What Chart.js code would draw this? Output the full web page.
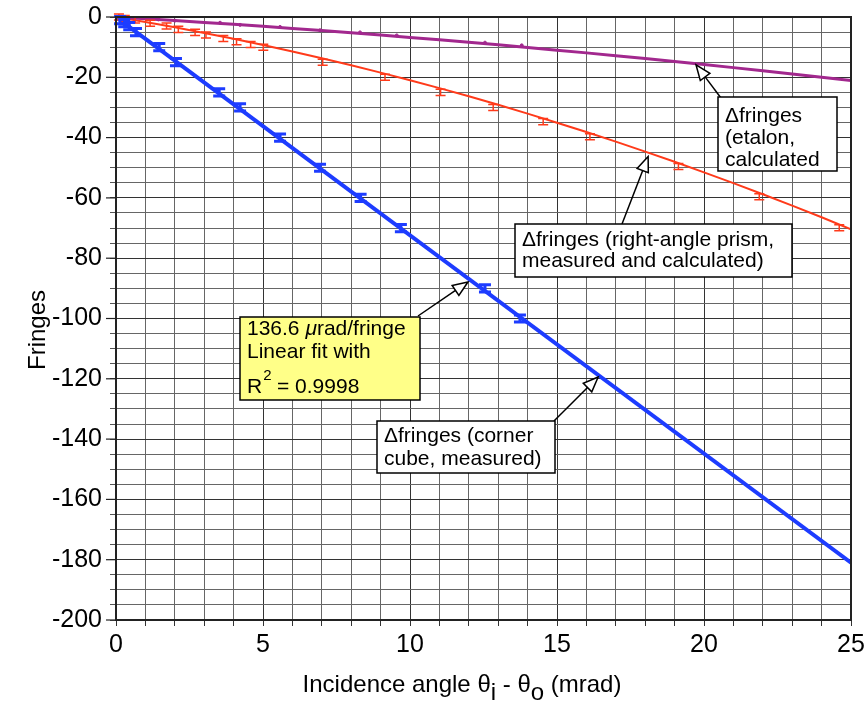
<!DOCTYPE html>
<html>
<head>
<meta charset="utf-8">
<script src="https://cdn.jsdelivr.net/npm/chart.js@4/dist/chart.umd.min.js"></script>
<style>
  html, body { margin: 0; padding: 0; background: #fff; }
  #wrap { width: 868px; height: 706px; }
</style>
</head>
<body>
<div id="wrap"><canvas id="c" width="868" height="706"></canvas></div>
<script>
// corner cube, measured (with error bars) + linear fit
const cubeX = [0.14, 0.28, 0.45, 0.68, 1.47, 2.04, 3.51, 4.22, 5.58, 6.94, 8.32, 9.69, 12.55, 13.74];
const cubeY = [-1, -2, -3, -5, -10, -15, -25, -30, -40, -50, -60, -70, -90, -100];
const cubeErr = 1.2;
const fitX = [0, 25];
const fitY = [0, -181];

// right-angle prism, measured + calculated
const prismX = [0.1, 0.3, 0.65, 1.16, 1.72, 2.12, 2.69, 3.06, 3.65, 4.1, 4.58, 5.01, 7.03, 9.15, 11.04, 12.83, 14.53, 16.12, 19.13, 21.88, 24.6];
const prismY = [0, -0.5, -1, -2.1, -3, -4.1, -5.1, -6, -7.1, -8.2, -9.1, -10, -15, -20, -25, -30, -34.7, -39.7, -49.6, -59.6, -69.9];
const prismErr = 1;
const calcX = [0, 1, 2, 3, 4, 5, 6, 7, 8, 9, 10, 11, 12, 13, 14, 15, 16, 17, 18, 19, 20, 21, 22, 23, 24, 25];
const prismCalc = [0, -1.67, -3.43, -5.29, -7.24, -9.29, -11.43, -13.67, -16.01, -18.44, -20.97, -23.6, -26.31, -29.13, -32.04, -35.05, -38.15, -41.35, -44.64, -48.03, -51.52, -55.1, -58.78, -62.55, -66.42, -70.39];

// etalon, calculated
const etalonCalc = [0, -0.58, -1.18, -1.8, -2.44, -3.1, -3.79, -4.5, -5.23, -5.99, -6.77, -7.57, -8.39, -9.23, -10.1, -10.99, -11.9, -12.83, -13.79, -14.76, -15.76, -16.79, -17.83, -18.89, -19.99, -21.1];
const etalonDotX = [1.44, 2.0, 3.54, 4.22, 5.58, 6.94, 8.3, 9.55, 12.55, 13.8];
const etalonDotY = [-0.8, -1.2, -1.9, -2.6, -3.3, -4.4, -5.1, -6.1, -8.5, -9.4];

const BLUE = '#1d3cff', RED = '#ff3a1a', PURPLE = '#a2288e';
const FONT = '"Liberation Sans", Arial, Helvetica, sans-serif';

const pts = (xs, ys) => xs.map((x, i) => ({ x: x, y: ys[i] }));

function arrow(ctx, x1, y1, x2, y2) {
  const a = Math.atan2(y2 - y1, x2 - x1);
  const L = 15, W = 6;
  const bx = x2 - L * Math.cos(a), by = y2 - L * Math.sin(a);
  ctx.strokeStyle = '#000';
  ctx.lineWidth = 1.5;
  ctx.beginPath(); ctx.moveTo(x1, y1); ctx.lineTo(bx, by); ctx.stroke();
  ctx.beginPath();
  ctx.moveTo(x2, y2);
  ctx.lineTo(bx + W * Math.sin(a), by - W * Math.cos(a));
  ctx.lineTo(bx - W * Math.sin(a), by + W * Math.cos(a));
  ctx.closePath();
  ctx.fillStyle = '#fff'; ctx.fill(); ctx.stroke();
}

function box(ctx, x, y, w, h, fill) {
  ctx.fillStyle = fill;
  ctx.fillRect(x, y, w, h);
  ctx.strokeStyle = '#000'; ctx.lineWidth = 1.5;
  ctx.strokeRect(x, y, w, h);
}

// callouts: arrow tips in data units, boxes in page layout
const notes = [
  { box: [718, 97, 119, 74], tail: [721, 98], tip: [19.73, -15.9], lines: ['Δfringes', '(etalon,', 'calculated'], tx: 725, ty: 122, lh: 22 },
  { box: [515, 224, 277, 53], tail: [622, 224], tip: [18.1, -46.3], lines: ['Δfringes (right-angle prism,', 'measured and calculated)'], tx: 522, ty: 246, lh: 21 },
  { box: [377, 421, 178, 52], tail: [554, 421], tip: [16.4, -119.4], lines: ['Δfringes (corner', 'cube, measured)'], tx: 384, ty: 442, lh: 23 }
];

const errorBars = {
  id: 'errorBars',
  afterDatasetsDraw(chart) {
    const ctx = chart.ctx, xs = chart.scales.x, ys = chart.scales.y;
    ctx.save();
    const draw = (X, Y, e, col, lw, cap) => {
      ctx.strokeStyle = col; ctx.lineWidth = lw;
      X.forEach((x, i) => {
        const px = xs.getPixelForValue(x);
        const p1 = ys.getPixelForValue(Y[i] + e), p2 = ys.getPixelForValue(Y[i] - e);
        ctx.beginPath();
        ctx.moveTo(px, p1); ctx.lineTo(px, p2);
        ctx.moveTo(px - cap, p1); ctx.lineTo(px + cap, p1);
        ctx.moveTo(px - cap, p2); ctx.lineTo(px + cap, p2);
        ctx.stroke();
      });
    };
    draw(prismX, prismY, prismErr, RED, 1.5, 5);
    draw(cubeX, cubeY, cubeErr, BLUE, 3, 6);
    ctx.restore();
  },
  afterDraw(chart) {
    const ctx = chart.ctx, a = chart.chartArea, xs = chart.scales.x, ys = chart.scales.y;
    ctx.save();
    // frame
    ctx.strokeStyle = '#222'; ctx.lineWidth = 2;
    ctx.strokeRect(a.left, a.top, a.right - a.left, a.bottom - a.top);
    // longer major ticks on y
    ctx.lineWidth = 1.2;
    for (let v = 0; v >= -200; v -= 20) {
      const py = ys.getPixelForValue(v);
      ctx.beginPath(); ctx.moveTo(a.left - 10, py); ctx.lineTo(a.left, py); ctx.stroke();
    }

    ctx.font = '21px ' + FONT;
    ctx.textBaseline = 'alphabetic';
    notes.forEach(n => {
      const tip = [xs.getPixelForValue(n.tip[0]), ys.getPixelForValue(n.tip[1])];
      arrow(ctx, n.tail[0], n.tail[1], tip[0], tip[1]);
      box(ctx, n.box[0], n.box[1], n.box[2], n.box[3], '#fff');
      ctx.fillStyle = '#000';
      n.lines.forEach((t, i) => ctx.fillText(t, n.tx, n.ty + i * n.lh));
    });

    // yellow fit box
    arrow(ctx, 418, 316, xs.getPixelForValue(11.97), ys.getPixelForValue(-87.9));
    box(ctx, 240, 317, 180, 83, '#ffff88');
    ctx.fillStyle = '#000';
    ctx.font = '21px ' + FONT;
    ctx.fillText('136.6 ', 247, 335);
    let w = ctx.measureText('136.6 ').width;
    ctx.font = 'italic 21px ' + FONT;
    ctx.fillText('μ', 247 + w, 335);
    w += ctx.measureText('μ').width;
    ctx.font = '21px ' + FONT;
    ctx.fillText('rad/fringe', 247 + w, 335);
    ctx.fillText('Linear fit with', 247, 358);
    ctx.fillText('R', 247, 393);
    w = ctx.measureText('R').width;
    ctx.font = '15px ' + FONT;
    ctx.fillText('2', 247 + w + 1, 380);
    ctx.font = '21px ' + FONT;
    ctx.fillText(' = 0.9998', 247 + w + 9, 393);

    // axis titles
    ctx.font = '24px ' + FONT;
    ctx.fillStyle = '#000';
    ctx.save();
    ctx.translate(45, 330);
    ctx.rotate(-Math.PI / 2);
    ctx.textAlign = 'center';
    ctx.fillText('Fringes', 0, 0);
    ctx.restore();

    const parts = [['Incidence angle θ', 0], ['i', 1], [' - θ', 0], ['o', 1], [' (mrad)', 0]];
    let total = 0;
    parts.forEach(p => { total += ctx.measureText(p[0]).width; });
    let x = 462 - total / 2;
    parts.forEach(p => {
      ctx.fillText(p[0], x, p[1] ? 700 : 692);
      x += ctx.measureText(p[0]).width;
    });
    ctx.restore();
  }
};

new Chart(document.getElementById('c'), {
  type: 'scatter',
  data: {
    datasets: [
      { label: 'etalon calc', data: pts(calcX, etalonCalc), showLine: true, borderColor: PURPLE, borderWidth: 3, pointRadius: 0 },
      { label: 'etalon pts', data: pts(etalonDotX, etalonDotY), showLine: false, backgroundColor: PURPLE, borderColor: PURPLE, pointRadius: 1.5 },
      { label: 'prism calc', data: pts(calcX, prismCalc), showLine: true, borderColor: RED, borderWidth: 2, pointRadius: 0 },
      { label: 'prism meas', data: pts(prismX, prismY), showLine: false, pointRadius: 0 },
      { label: 'cube fit', data: pts(fitX, fitY), showLine: true, borderColor: BLUE, borderWidth: 4, pointRadius: 0 },
      { label: 'cube meas', data: pts(cubeX, cubeY), showLine: false, pointRadius: 0 }
    ]
  },
  options: {
    responsive: false,
    animation: false,
    layout: { padding: { left: 0, right: 17, top: 17, bottom: 0 } },
    plugins: { legend: { display: false }, tooltip: { enabled: false } },
    scales: {
      x: {
        type: 'linear', min: 0, max: 25,
        afterFit: s => { s.height = 86; s.paddingLeft = 0; s.paddingRight = 0; },
        border: { display: true, color: '#222', width: 2 },
        grid: {
          color: c => (c.tick && c.tick.value % 5 === 0) ? '#333' : '#666',
          lineWidth: 1, tickLength: 6, tickColor: '#333'
        },
        ticks: {
          stepSize: 1, autoSkip: false, maxRotation: 0, padding: 4, color: '#000',
          font: { family: FONT, size: 25 },
          callback: v => (v % 5 === 0 ? String(v) : '')
        }
      },
      y: {
        type: 'linear', min: -200, max: 0,
        afterFit: s => { s.width = 116; s.paddingTop = 0; s.paddingBottom = 0; },
        border: { display: true, color: '#222', width: 2 },
        grid: {
          color: c => (c.tick && c.tick.value % 20 === 0) ? '#333' : '#666',
          lineWidth: 1, tickLength: 6, tickColor: '#555'
        },
        ticks: {
          stepSize: 5, autoSkip: false, padding: 8, color: '#000',
          font: { family: FONT, size: 25 },
          callback: v => (v % 20 === 0 ? String(v) : '')
        }
      }
    }
  },
  plugins: [errorBars]
});
</script>
</body>
</html>
